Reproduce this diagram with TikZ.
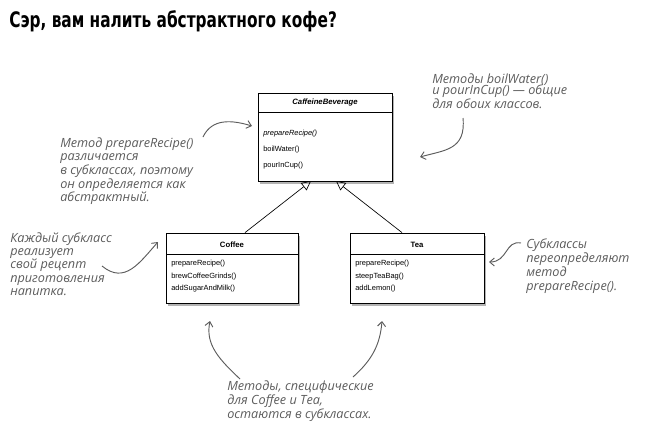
\documentclass[tikz,border=0pt]{standalone}
\usepackage{fontspec}
\setmainfont{Liberation Sans}
\newfontfamily\titlefont{DejaVu Sans Condensed}
\newfontfamily\handfont{Open Sans}
\usetikzlibrary{arrows.meta,shadows}

\definecolor{notegray}{RGB}{92,92,92}

\begin{document}
\begin{tikzpicture}[x=0.75pt,y=-0.75pt,
    umlbox/.style={draw, fill=white, line width=0.6pt,
      drop shadow={shadow xshift=1.8pt, shadow yshift=-2.2pt, opacity=0.6}},
    classname/.style={font=\fontsize{5.8}{7}\selectfont\bfseries, inner sep=0pt},
    member/.style={anchor=west, font=\fontsize{5.6}{7}\selectfont, inner sep=0pt},
    note/.style={anchor=north west, align=left, text=notegray, inner sep=0pt,
      font=\handfont\itshape\fontsize{9.5}{#1}\selectfont},
    note/.default=10pt,
    hand/.style={notegray, line width=0.7pt, -{Straight Barb[length=3.5pt,width=6pt]}},
    extends/.style={line width=0.5pt, -{Triangle[open,length=7pt,width=7pt]}}]

  \useasboundingbox (0,0) rectangle (645,436);

  \node[anchor=west, inner sep=0pt, font=\titlefont\bfseries\fontsize{16}{19}\selectfont]
    (title) at (9,21) {\scalebox{0.8}[1]{Сэр, вам налить абстрактного кофе?}};

  % abstract class
  \node[umlbox, minimum width=100.5pt, minimum height=66pt] (cb) at (325,137) {};
  \draw (258,112) -- (392,112);
  \node[classname, font=\fontsize{5.8}{7}\selectfont\bfseries\itshape] (cbname) at (325,102) {CaffeineBeverage};
  \node[member] (cbprep) at (263,134) {\itshape prepareRecipe()};
  \node[member] (cbboil) at (263,150) {boilWater()};
  \node[member] (cbpour) at (263,166) {pourInCup()};

  % subclasses
  \node[umlbox, minimum width=99pt, minimum height=52.5pt] (coffee) at (232,268) {};
  \draw (166,254) -- (298,254);
  \node[classname] (coffeename) at (232,245) {Coffee};
  \node[member] (coffeeprep) at (171,264) {prepareRecipe()};
  \node[member] (coffeebrew) at (171,277) {brewCoffeeGrinds()};
  \node[member] (coffeeadd) at (171,289) {addSugarAndMilk()};

  \node[umlbox, minimum width=100.5pt, minimum height=52.5pt] (tea) at (417,268) {};
  \draw (350,254) -- (484,254);
  \node[classname] (teaname) at (417,245) {Tea};
  \node[member] (teaprep) at (355,264) {prepareRecipe()};
  \node[member] (teasteep) at (355,277) {steepTeaBag()};
  \node[member] (teaadd) at (355,289) {addLemon()};

  \draw[extends] (coffee.north) ++(13,0) -- (311,181);
  \draw[extends] (tea.north) ++(-15,0) -- (336,181);

  % notes
  \node[note=10.3pt] (noteabstract) at (60,137) {Метод prepareRecipe()\\различается\\в субклассах, поэтому\\он определяется как\\абстрактный.};
  \node[note=10pt] (noteeach) at (10,232) {Каждый субкласс\\реализует\\свой рецепт\\приготовления\\напитка.};
  \node[note=8.8pt] (notecommon) at (432,73) {Методы boilWater()\\и pourInCup() — общие\\для обоих классов.};
  \node[note=10.5pt] (noteoverride) at (526,239) {Субклассы\\переопределяют\\метод\\prepareRecipe().};
  \node[note=9pt] (notespecific) at (227,380) {Методы, специфические\\для Coffee и Tea,\\остаются в субклассах.};

  \coordinate (abstracttip) at (252,126);
  \coordinate (eachtip) at (158,242);
  \coordinate (commontip) at (420,157);
  \coordinate (overridetip) at (489,262);
  \coordinate (coffeetip) at (210,321);
  \coordinate (teatip) at (382,321);

  \draw[hand] (203,137) .. controls (212,118) and (232,120) .. (abstracttip);
  \draw[hand] (102,266) .. controls (125,285) and (140,262) .. (eachtip);
  \draw[hand] (463,118) .. controls (466,150) and (445,150) .. (commontip);
  \draw[hand] (521,243) .. controls (505,240) and (508,262) .. (overridetip);
  \draw[hand] (240,379) .. controls (220,360) and (205,345) .. (coffeetip);
  \draw[hand] (353,377) .. controls (372,360) and (380,345) .. (teatip);
\end{tikzpicture}
\end{document}
